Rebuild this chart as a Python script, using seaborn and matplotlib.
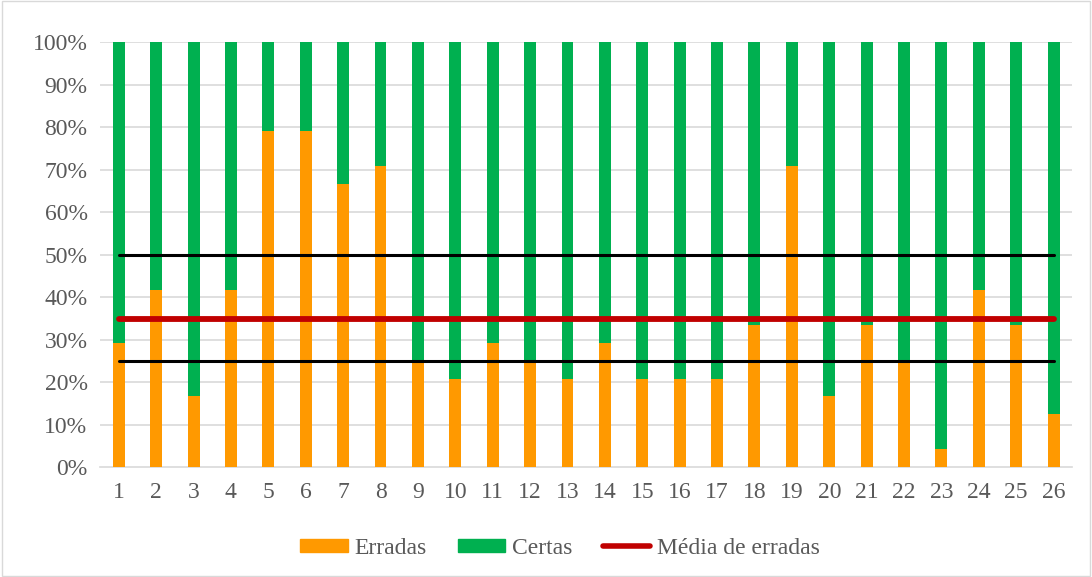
import numpy as np
import pandas as pd
import matplotlib
matplotlib.use("Agg")
import matplotlib.pyplot as plt
import seaborn as sns
from matplotlib.patches import Patch, Rectangle
from matplotlib.lines import Line2D
from matplotlib.ticker import PercentFormatter

# data: share of wrong answers per question (out of 24)
questoes = [str(i) for i in range(1, 27)]
erradas = [7/24, 10/24, 4/24, 10/24, 19/24, 19/24, 16/24, 17/24, 6/24, 5/24,
           7/24, 6/24, 5/24, 7/24, 5/24, 5/24, 5/24, 8/24, 17/24, 4/24,
           8/24, 6/24, 1/24, 10/24, 8/24, 3/24]
certas = [1 - e for e in erradas]
limites = [0.50, 0.25]

df = pd.DataFrame({'Questao': questoes, 'Erradas': erradas, 'Certas': certas})
df['Total'] = df['Erradas'] + df['Certas']
media = np.mean(erradas)

sns.set_theme(style='white')
plt.rcParams['font.family'] = ['Liberation Serif', 'DejaVu Serif']

fig = plt.figure(figsize=(10.92, 5.77), dpi=100)
ax = fig.add_axes([0.0916, 0.1906, 0.8904, 0.7364])

orange = '#FF9900'
green = '#00B050'
red = '#C00000'
grey = '#595959'

for v in np.arange(0.1, 1.01, 0.1):
    ax.axhline(v, color='#D9D9D9', lw=1.2, zorder=0)

sns.barplot(data=df, x='Questao', y='Total', color=green, width=0.32,
            saturation=1, linewidth=0, ax=ax, zorder=2)
sns.barplot(data=df, x='Questao', y='Erradas', color=orange, width=0.32,
            saturation=1, linewidth=0, ax=ax, zorder=3)

xs = np.arange(len(questoes))
for lim in limites:
    ax.plot(xs, [lim] * len(xs), color='black', lw=2.2, zorder=4)
ax.plot(xs, [media] * len(xs), color=red, lw=4.2, solid_capstyle='round', zorder=5)

ax.set_xlim(-0.5, len(questoes) - 0.5)
ax.set_ylim(0, 1)
ax.set_yticks(np.arange(0, 1.01, 0.1))
ax.yaxis.set_major_formatter(PercentFormatter(1.0, decimals=0))
ax.set_xlabel('')
ax.set_ylabel('')
ax.tick_params(axis='both', labelsize=17, colors=grey, length=0)
ax.tick_params(axis='x', pad=11)
ax.tick_params(axis='y', pad=9)
for s in ['top', 'right', 'left']:
    ax.spines[s].set_visible(False)
ax.spines['bottom'].set_color('#D9D9D9')
ax.spines['bottom'].set_linewidth(1.2)

handles = [Patch(color=orange, label='Erradas'),
           Patch(color=green, label='Certas'),
           Line2D([0], [0], color=red, lw=4, solid_capstyle='round',
                  label='Média de erradas')]
leg = fig.legend(handles=handles, loc='center', bbox_to_anchor=(0.513, 0.05),
                 ncol=3, frameon=False, fontsize=17, handlelength=2.0,
                 handleheight=0.5, handletextpad=0.3, columnspacing=1.3)
for t in leg.get_texts():
    t.set_color(grey)

fig.patches.append(Rectangle((0.002, 0.002), 0.996, 0.996, transform=fig.transFigure,
                             fill=False, edgecolor='#D9D9D9', lw=1))

fig.savefig('out.png', dpi=100)
